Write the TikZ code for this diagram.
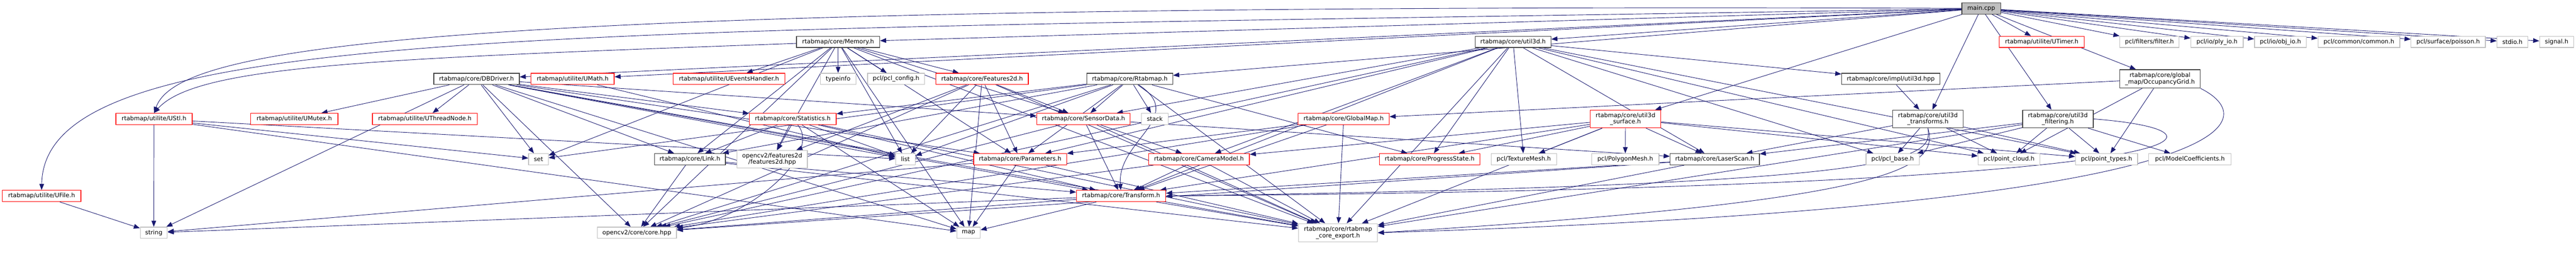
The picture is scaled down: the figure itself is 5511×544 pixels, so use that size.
\documentclass[tikz,border=0pt]{standalone}
\usepackage{fontspec}
\setmainfont{DejaVu Sans}
\usetikzlibrary{arrows.meta,backgrounds}
\definecolor{edgec}{HTML}{191970}
\definecolor{redb}{HTML}{FF0000}
\definecolor{grayb}{HTML}{BFBFBF}
\definecolor{darkb}{HTML}{404040}
\tikzset{
  nb/.style={rectangle, draw, fill=white, inner sep=0pt, line width=0.75pt,
    font=\fontsize{6.4}{6.8}\selectfont, align=center, minimum height=12pt},
  rb/.style={nb, draw=redb},
  gb/.style={nb, draw=grayb},
  kb/.style={nb, draw=darkb},
  e/.style={draw=edgec, line width=0.5pt, -{Triangle[length=6.5pt,width=5pt]}}
}
\begin{document}
\begin{tikzpicture}[x=0.5pt,y=-0.5pt]
\useasboundingbox (0,0) rectangle (5511,544);
% row 0
\node[kb, fill=grayb, minimum width=41.5pt] (main) at (4238.5,18) {main.cpp};
% row 1
\node[kb, minimum width=89pt] (memory) at (1793,89.5) {rtabmap/core/Memory.h};
\node[kb, minimum width=81pt] (util3d) at (3237,89.5) {rtabmap/core/util3d.h};
\node[rb, minimum width=91pt] (utimer) at (4368,89.5) {rtabmap/utilite/UTimer.h};
\node[gb, minimum width=63.5pt] (filter) at (4598.5,89.5) {pcl/filters/filter.h};
\node[gb, minimum width=56pt] (ply) at (4743,89.5) {pcl/io/ply\_io.h};
\node[gb, minimum width=55.5pt] (obj) at (4878.5,89.5) {pcl/io/obj\_io.h};
\node[gb, minimum width=87.5pt] (common) at (5046.5,89.5) {pcl/common/common.h};
\node[gb, minimum width=79.5pt] (poisson) at (5237.5,89.5) {pcl/surface/poisson.h};
\node[gb, minimum width=33pt] (stdio) at (5375,89.5) {stdio.h};
\node[gb, minimum width=36.5pt] (signal) at (5469.5,89.5) {signal.h};
% row 2
\node[kb, minimum width=91.5pt] (dbdriver) at (1019.5,168.5) {rtabmap/core/DBDriver.h};
\node[rb, minimum width=89pt] (umath) at (1225,168.5) {rtabmap/utilite/UMath.h};
\node[rb, minimum width=119.5pt] (uevents) at (1559.5,168.5) {rtabmap/utilite/UEventsHandler.h};
\node[gb, minimum width=38pt] (typeinfo) at (1793,168.5) {typeinfo};
\node[gb, minimum width=61pt] (pclconfig) at (1917,168.5) {pcl/pcl\_config.h};
\node[rb, minimum width=99pt] (feat2d) at (2101,168.5) {rtabmap/core/Features2d.h};
\node[kb, minimum width=92pt] (rtabmap) at (2417,168.5) {rtabmap/core/Rtabmap.h};
\node[kb, minimum width=105pt] (implu3d) at (4045,168.5) {rtabmap/core/impl/util3d.hpp};
\node[kb, minimum width=86pt, minimum height=19.5pt] (occ) at (4621,168.5) {rtabmap/core/global\\\_map/OccupancyGrid.h};
% row 3
\node[rb, minimum width=81.5pt] (ustl) at (329.5,254) {rtabmap/utilite/UStl.h};
\node[rb, minimum width=93.5pt] (umutex) at (629.5,254) {rtabmap/utilite/UMutex.h};
\node[rb, minimum width=112pt] (uthread) at (909,254) {rtabmap/utilite/UThreadNode.h};
\node[rb, minimum width=93pt] (stats) at (1696,254) {rtabmap/core/Statistics.h};
\node[rb, minimum width=100pt] (sensor) at (2318,254) {rtabmap/core/SensorData.h};
\node[gb, minimum width=28.5pt] (stack) at (2470.5,254) {stack};
\node[rb, minimum width=97.5pt] (globalmap) at (2874.5,254) {rtabmap/core/GlobalMap.h};
\node[rb, minimum width=75.5pt, minimum height=19pt] (surface) at (3477.5,254) {rtabmap/core/util3d\\\_surface.h};
\node[kb, minimum width=75.5pt, minimum height=19pt] (transforms) at (4124.5,254) {rtabmap/core/util3d\\\_transforms.h};
\node[kb, minimum width=75.5pt, minimum height=19pt] (filtering) at (4402.5,254) {rtabmap/core/util3d\\\_filtering.h};
% row 4
\node[gb, minimum width=21pt] (set) at (1152,340) {set};
\node[kb, minimum width=76pt] (link) at (1476,340) {rtabmap/core/Link.h};
\node[gb, minimum width=75pt, minimum height=19pt] (f2dhpp) at (1652,340) {opencv2/features2d\\/features2d.hpp};
\node[gb, minimum width=21pt] (list) at (1937,340) {list};
\node[rb, minimum width=99.5pt] (params) at (2182.5,340) {rtabmap/core/Parameters.h};
\node[rb, minimum width=108pt] (cammodel) at (2565,340) {rtabmap/core/CameraModel.h};
\node[rb, minimum width=107.5pt] (progress) at (3058.5,340) {rtabmap/core/ProgressState.h};
\node[gb, minimum width=70pt] (texmesh) at (3260,340) {pcl/TextureMesh.h};
\node[gb, minimum width=72pt] (polymesh) at (3477,340) {pcl/PolygonMesh.h};
\node[kb, minimum width=95.5pt] (laser) at (3668.5,340) {rtabmap/core/LaserScan.h};
\node[gb, minimum width=57pt] (pclbase) at (4049,340) {pcl/pcl\_base.h};
\node[gb, minimum width=66pt] (ptcloud) at (4298,340) {pcl/point\_cloud.h};
\node[gb, minimum width=66.5pt] (pttypes) at (4506.5,340) {pcl/point\_types.h};
\node[gb, minimum width=88pt] (modelcoef) at (4685,340) {pcl/ModelCoefficients.h};
% row 5
\node[rb, minimum width=84pt] (ufile) at (89,418.5) {rtabmap/utilite/UFile.h};
\node[rb, minimum width=95.5pt] (transform) at (2398.5,418.5) {rtabmap/core/Transform.h};
% row 6
\node[gb, minimum width=29pt] (string) at (329,497) {string};
\node[gb, minimum width=84.5pt] (corehpp) at (1362.5,497) {opencv2/core/core.hpp};
\node[gb, minimum width=25pt] (map) at (2072,497) {map};
\node[gb, minimum width=84.5pt, minimum height=19.5pt] (export) at (2862.5,497) {rtabmap/core/rtabmap\\\_core\_export.h};

\begin{scope}[on background layer]
% curved edges
\draw[e] (main) .. controls (1200,70) and (95,45) .. (ufile.north);
\draw[e] (main) .. controls (900,5) and (380,100) .. (ustl.north);
\draw[e] (memory) .. controls (800,125) and (420,140) .. (ustl.north);
\draw[e] (occ.south east) .. controls (4850,260) and (4800,440) .. (export.east);
\draw[e] (filtering.east) .. controls (4820,280) and (4780,400) .. (transform.east);
\draw[e] (transforms.south) .. controls (4135,340) and (4100,395) .. (transform.east);
\draw[e] (transforms.south) .. controls (4150,360) and (4050,430) .. (export.east);
\draw[e] (rtabmap) .. controls (2540,250) and (2390,300) .. (transform);
\draw[e] (stats) .. controls (1760,330) and (1600,470) .. (corehpp);
% straight edges
\foreach \a/\b in {
 main/memory, main/dbdriver, main/rtabmap, main/util3d, main/surface, main/transforms,
 main/filtering, main/occ, main/utimer, main/filter, main/ply, main/obj, main/common,
 main/poisson, main/stdio, main/signal, main/umath,
 memory/uevents, memory/typeinfo, memory/pclconfig, memory/feat2d, memory/params,
 memory/sensor, memory/link, memory/f2dhpp, memory/list, memory/map, memory/set,
 memory/corehpp, memory/export,
 dbdriver/umutex, dbdriver/uthread, dbdriver/set, dbdriver/string, dbdriver/list,
 dbdriver/map, dbdriver/params, dbdriver/sensor, dbdriver/link, dbdriver/stats,
 dbdriver/transform, dbdriver/corehpp, dbdriver/export,
 rtabmap/sensor, rtabmap/stack, rtabmap/stats, rtabmap/params, rtabmap/link,
 rtabmap/progress, rtabmap/list, rtabmap/set, rtabmap/corehpp, rtabmap/export,
 stats/link, stats/f2dhpp, stats/transform, stats/list, stats/map, stats/export,
 feat2d/list, feat2d/params, feat2d/sensor, feat2d/f2dhpp, feat2d/corehpp, feat2d/map, feat2d/export,
 sensor/transform, sensor/cammodel, sensor/laser, sensor/corehpp, sensor/export,
 params/map, params/export, params/string,
 link/corehpp, link/transform, link/export,
 cammodel/transform, cammodel/export, cammodel/corehpp,
 transform/export, transform/corehpp, transform/map, transform/string,
 laser/transform, laser/export, laser/corehpp,
 globalmap/export, globalmap/transform, globalmap/params, globalmap/corehpp,
 util3d/export, util3d/corehpp, util3d/transform, util3d/sensor, util3d/params,
 util3d/laser, util3d/ptcloud, util3d/pttypes, util3d/pclbase, util3d/texmesh,
 util3d/progress, util3d/cammodel, util3d/implu3d,
 implu3d/transforms,
 transforms/laser, transforms/ptcloud, transforms/pttypes, transforms/pclbase,
 filtering/export, filtering/laser, filtering/ptcloud, filtering/pttypes, filtering/modelcoef, filtering/pclbase,
 surface/export, surface/texmesh, surface/polymesh, surface/laser, surface/ptcloud,
 surface/pttypes, surface/transform, surface/cammodel, surface/progress,
 occ/globalmap, occ/ptcloud, occ/pttypes,
 ustl/string, ustl/list, ustl/map, ustl/set,
 ufile/string, umath/list}
 \draw[e] (\a) -- (\b);
\end{scope}
\end{tikzpicture}
\end{document}
